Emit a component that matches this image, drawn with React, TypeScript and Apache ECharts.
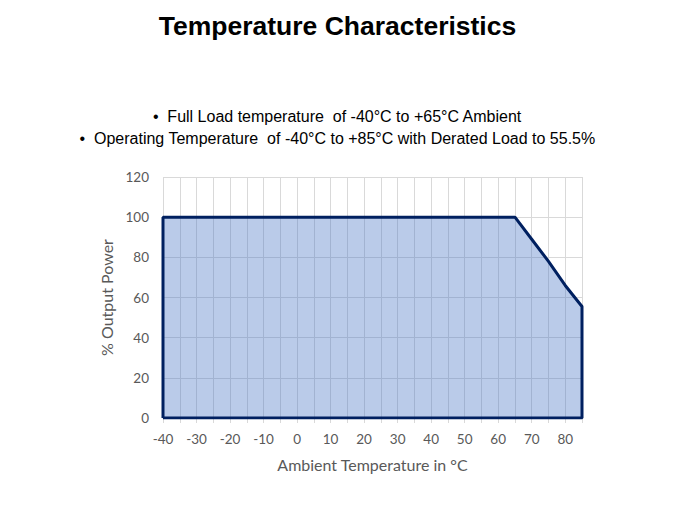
import React, { useEffect, useRef } from "react";
import * as echarts from "echarts";

const temps = [-40, -40, 65, 70, 75, 80, 85, 85, -40];
const power = [0, 100, 100, 89, 78, 66, 55.5, 0, 0];
const bullets = [
  "•  Full Load temperature  of -40°C to +65°C Ambient",
  "•  Operating Temperature  of -40°C to +85°C with Derated Load to 55.5%",
];

export default function App() {
  const ref = useRef<HTMLDivElement>(null);
  useEffect(() => {
    const chart = echarts.init(ref.current!, null, { renderer: "svg" });
    const data = temps.map((t, i) => [t, power[i]]);
    chart.setOption({
      animation: false,
      backgroundColor: "#ffffff",
      title: [
        {
          text: "Temperature Characteristics",
          left: "center",
          top: 7,
          textStyle: { fontFamily: "Liberation Sans", fontWeight: "bold", fontSize: 26.5, color: "#000" },
        },
      ],
      graphic: bullets.map((b, i) => ({
        type: "text",
        left: "center",
        top: 108 + i * 22,
        style: { text: b, font: "16px 'Liberation Sans'", fill: "#000" },
      })),
      grid: { left: 163, right: 93, top: 177, bottom: 88 },
      xAxis: {
        type: "value",
        min: -40,
        max: 85,
        interval: 5,
        name: "Ambient Temperature in °C",
        nameLocation: "middle",
        nameGap: 38,
        nameTextStyle: { fontFamily: "Lato", fontSize: 16, color: "#595959" },
        axisLine: { show: true, lineStyle: { color: "#d9d9d9" } },
        axisTick: { show: true, length: 5, lineStyle: { color: "#d9d9d9" } },
        axisLabel: {
          fontFamily: "Lato",
          fontSize: 13.5,
          color: "#595959",
          margin: 14,
          formatter: (v: number) => (v % 10 === 0 ? String(v) : ""),
        },
        splitLine: { show: true, lineStyle: { color: "#d9d9d9" } },
      },
      yAxis: {
        type: "value",
        min: 0,
        max: 120,
        interval: 20,
        name: "% Output Power",
        nameLocation: "middle",
        nameGap: 45,
        nameTextStyle: { fontFamily: "Lato", fontSize: 16, color: "#595959" },
        axisLine: { show: false },
        axisTick: { show: false },
        axisLabel: { fontFamily: "Lato", fontSize: 13.5, color: "#595959", margin: 14 },
        splitLine: { show: true, lineStyle: { color: "#d9d9d9" } },
      },
      series: [
        {
          type: "line",
          data,
          symbol: "none",
          lineStyle: { color: "#002060", width: 3 },
          areaStyle: { color: "#4472C4", opacity: 0.37, origin: "start" },
          z: 3,
        },
      ],
    });
    return () => chart.dispose();
  }, []);
  return <div ref={ref} style={{ position: "absolute", left: 0, top: 0, width: 675, height: 506 }} />;
}
